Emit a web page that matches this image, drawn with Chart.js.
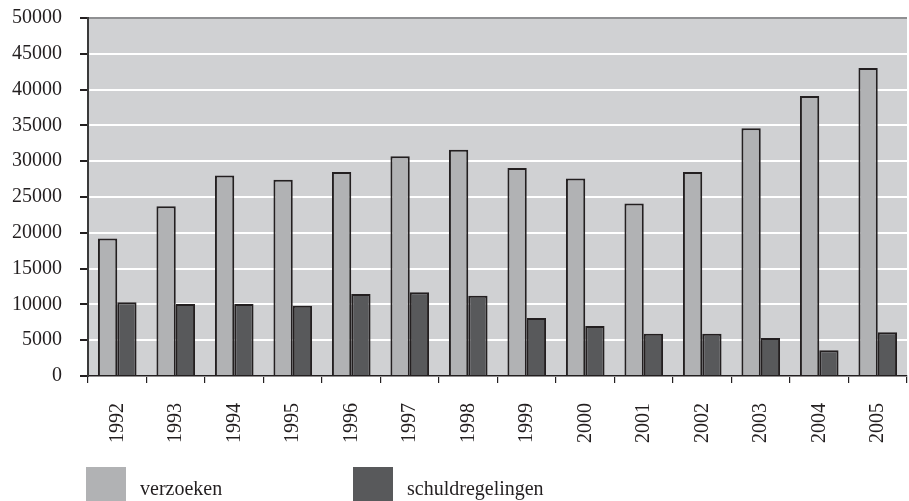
<!DOCTYPE html>
<html>
<head>
<meta charset="utf-8">
<script src="https://cdn.jsdelivr.net/npm/chart.js@4/dist/chart.umd.min.js"></script>
<style>
  html, body { margin: 0; padding: 0; background: #ffffff; }
  canvas { display: block; }
</style>
</head>
<body>
<canvas id="chart" width="909" height="501"></canvas>
<script>
const years = ['1992', '1993', '1994', '1995', '1996', '1997', '1998', '1999', '2000', '2001', '2002', '2003', '2004', '2005'];
const verzoeken = [19200, 23700, 28000, 27400, 28500, 30700, 31600, 29050, 27600, 24100, 28500, 34600, 39100, 43000];
const schuldregelingen = [10300, 10050, 10050, 9800, 11450, 11700, 11200, 8100, 7000, 5900, 5900, 5300, 3600, 6100];
const yTicks = [0, 5000, 10000, 15000, 20000, 25000, 30000, 35000, 40000, 45000, 50000];

const textColor = '#231f20';
const serif = "'Liberation Serif', 'DejaVu Serif', serif";

// grey plot background
const plotBackground = {
    id: 'plotBackground',
    beforeDraw(chart) {
        const { ctx, chartArea } = chart;
        ctx.save();
        ctx.fillStyle = '#d0d1d3';
        ctx.fillRect(chartArea.left, chartArea.top, chartArea.right - chartArea.left, chartArea.bottom - chartArea.top);
        ctx.restore();
    }
};

// legend below the axis labels, drawn by hand to keep the boxes big
const bottomLegend = {
    id: 'bottomLegend',
    afterDraw(chart) {
        const ctx = chart.ctx;
        const starts = [86, 353];
        ctx.save();
        ctx.font = '20px ' + serif;
        ctx.textBaseline = 'alphabetic';
        chart.data.datasets.forEach(function(ds, i) {
            ctx.fillStyle = ds.backgroundColor;
            ctx.fillRect(starts[i], 467, 40, 34);
            ctx.fillStyle = textColor;
            ctx.fillText(ds.label, starts[i] + 54, 495);
        });
        ctx.restore();
    }
};

new Chart(document.getElementById('chart').getContext('2d'), {
    type: 'bar',
    data: {
        labels: years,
        datasets: [
            {
                label: 'verzoeken',
                data: verzoeken,
                backgroundColor: '#b1b2b4',
                borderColor: textColor,
                borderWidth: 2
            },
            {
                label: 'schuldregelingen',
                data: schuldregelingen,
                backgroundColor: '#58595b',
                borderColor: textColor,
                borderWidth: 2
            }
        ]
    },
    options: {
        responsive: false,
        animation: false,
        layout: { padding: { top: 18, right: 2, left: 0, bottom: 0 } },
        datasets: {
            bar: { barPercentage: 1, categoryPercentage: 0.66 }
        },
        plugins: {
            legend: { display: false },
            tooltip: { enabled: false }
        },
        scales: {
            x: {
                afterFit(scale) {
                    scale.height = 125;
                    scale.paddingLeft = 0;
                    scale.paddingRight = 0;
                },
                border: { display: true, color: textColor, width: 1.5 },
                grid: {
                    offset: true,
                    drawOnChartArea: false,
                    tickLength: 7,
                    tickColor: textColor,
                    lineWidth: 1.2
                },
                ticks: {
                    minRotation: 90,
                    maxRotation: 90,
                    padding: 20,
                    color: textColor,
                    font: { family: serif, size: 20 }
                }
            },
            y: {
                min: 0,
                max: 50000,
                afterFit(scale) {
                    scale.width = 88;
                    scale.paddingTop = 0;
                    scale.paddingBottom = 0;
                },
                afterBuildTicks(scale) {
                    scale.ticks = yTicks.map(v => ({ value: v }));
                },
                border: { display: true, color: '#3a3a3a', width: 2 },
                grid: {
                    color: ctx => ctx.tick && ctx.tick.value === 50000 ? '#8f9092' : '#ffffff',
                    lineWidth: 2,
                    tickLength: 8,
                    tickColor: textColor
                },
                ticks: {
                    padding: 18,
                    color: textColor,
                    font: { family: serif, size: 20 },
                    callback: value => String(value)
                }
            }
        }
    },
    plugins: [plotBackground, bottomLegend]
});
</script>
</body>
</html>
